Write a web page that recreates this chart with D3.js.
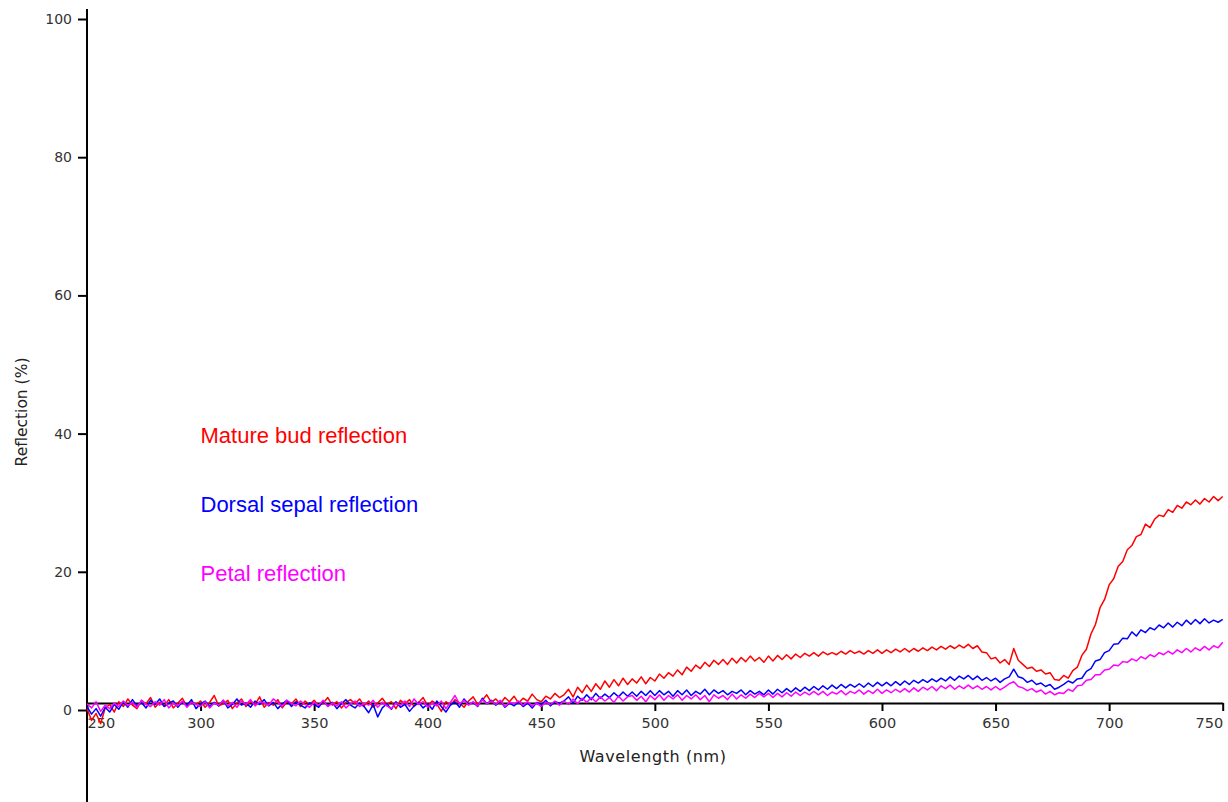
<!DOCTYPE html>
<html>
<head>
<meta charset="utf-8">
<script src="https://cdn.jsdelivr.net/npm/d3@7"></script>
<style>
  html, body { margin: 0; padding: 0; background: #fff; }
  svg { display: block; }
</style>
</head>
<body>
<svg id="chart" width="1228" height="802"></svg>
<script>
// ---- DATA ----
const wlStart = 250, wlStep = 2; // wavelengths 250..750 nm every 2 nm
const xTicks = [250, 300, 350, 400, 450, 500, 550, 600, 650, 700, 750];
const yTicks = [0, 20, 40, 60, 80, 100];
const seriesNames = ["Mature bud reflection", "Dorsal sepal reflection", "Petal reflection"];
const seriesColors = ["#ff0000", "#0000ff", "#ff00ff"];

const matureBud = [
  /*250*/ 0.2,-1.5,-0.5,-2.0,0.3, 0.8,-0.3,1.2,0.5,1.6, 0.7,0.2,1.4,0.9,1.8, 0.4,1.1,0.6,1.5,0.3,
  /*290*/ 1.0,1.7,0.5,1.2,0.8, 1.3,0.4,1.1,2.1,0.6, 0.9,1.4,0.2,1.0,1.6, 0.5,1.2,0.8,1.9,0.4,
  /*330*/ 1.1,0.7,1.5,0.3,1.2, 0.9,1.6,0.5,1.3,0.8, 1.4,0.6,1.0,1.8,0.7, 1.2,0.3,1.1,1.5,0.9,
  /*370*/ 1.6,0.6,1.3,0.4,1.0, 1.7,0.8,1.2,0.2,1.4, 0.9,1.5,0.5,1.1,1.8, 0.6,1.3,0.9,-0.2,1.2,
  /*410*/ 0.7,1.5,1.0,0.4,1.3, 1.9,0.8,1.4,2.2,1.1, 1.6,0.9,1.8,1.2,2.0, 1.0,1.7,1.3,2.3,1.5,
  /*450*/ 1.2,2.0,1.6,2.4,1.8, 2.2,3.0,1.9,3.3,2.5, 3.6,2.7,3.8,3.0,4.2, 3.3,4.4,3.5,4.6,3.7,
  /*490*/ 4.5,3.9,4.8,3.8,4.7, 4.2,5.2,4.6,5.4,4.9, 5.8,5.1,6.2,5.6,6.5, 6.0,6.9,6.3,7.2,6.6,
  /*530*/ 7.3,6.6,7.5,6.8,7.6, 7.0,7.8,7.1,7.6,6.9, 7.8,7.1,7.9,7.3,8.0, 7.4,8.1,7.6,8.2,7.8,
  /*570*/ 8.3,7.8,8.4,8.0,8.3, 8.0,8.5,8.1,8.6,8.2, 8.5,8.1,8.6,8.2,8.7, 8.2,8.7,8.3,8.8,8.4,
  /*610*/ 8.9,8.4,8.9,8.5,9.0, 8.6,9.1,8.7,9.2,8.8, 9.3,8.9,9.4,9.0,9.5, 8.9,9.3,8.4,8.3,7.4,
  /*650*/ 7.6,6.8,7.3,6.6,8.9, 7.2,6.6,6.0,6.2,5.6, 5.8,5.2,5.4,4.4,4.3, 5.0,4.6,5.7,6.2,7.9,
  /*690*/ 8.8,11.0,12.4,14.8,16.0, 18.1,19.0,20.8,21.5,23.2, 23.8,25.1,25.4,26.9,26.4, 27.6,28.2,28.0,29.0,28.6,
  /*730*/ 29.6,29.2,30.1,29.7,30.4, 29.8,30.6,30.1,30.9,30.3, 30.9
];

const dorsalSepal = [
  /*250*/ 0.5,-0.6,0.2,-0.9,0.4, -0.3,0.8,0.1,1.2,0.4, 1.5,0.6,1.1,0.3,1.4, 0.8,1.6,0.5,1.0,1.3,
  /*290*/ 0.4,1.2,0.7,1.5,0.2, 0.9,1.3,0.5,1.1,0.6, 1.4,0.3,0.8,1.6,0.7, 1.0,0.4,1.3,0.8,1.5,
  /*330*/ 0.6,1.1,0.2,0.9,1.4, 0.5,1.2,0.7,0.3,1.0, 0.8,0.4,1.3,0.6,1.1, 0.2,0.9,1.5,0.7,0.3,
  /*370*/ 1.0,0.5,-0.4,0.8,-1.0, 0.3,0.9,0.1,1.2,0.4, 0.8,-0.2,0.6,1.1,0.3, 0.9,0.1,1.3,0.5,-0.3,
  /*410*/ 0.7,1.2,0.4,1.6,0.8, 1.1,0.5,1.7,0.9,1.4, 0.7,1.3,0.4,1.0,0.6, 1.2,0.5,1.0,0.3,1.1,
  /*450*/ 0.8,1.4,0.6,1.2,1.0, 1.3,1.9,1.0,2.0,1.4, 2.2,1.5,2.4,1.7,2.3, 1.8,2.5,1.9,2.6,2.0,
  /*490*/ 2.6,2.0,2.7,2.1,2.8, 2.1,2.8,2.2,2.7,2.0, 2.8,2.2,2.9,2.1,2.7, 2.3,3.0,2.2,2.9,2.4,
  /*530*/ 2.8,2.2,2.7,2.4,2.9, 2.2,2.8,2.3,2.7,2.2, 2.9,2.3,3.0,2.5,3.1, 2.6,3.2,2.7,3.3,2.8,
  /*570*/ 3.4,2.9,3.5,3.0,3.6, 3.1,3.7,3.2,3.7,3.3, 3.8,3.3,3.9,3.4,4.0, 3.5,4.0,3.5,4.1,3.6,
  /*610*/ 4.2,3.7,4.3,3.9,4.4, 4.0,4.5,4.1,4.6,4.2, 4.8,4.3,4.9,4.5,5.0, 4.4,4.9,4.3,4.7,4.2,
  /*650*/ 4.6,4.0,4.5,4.8,5.9, 4.8,4.6,4.0,4.3,3.7, 3.9,3.4,3.7,3.0,3.3, 3.7,4.2,3.9,4.5,4.6,
  /*690*/ 5.6,6.0,7.1,7.3,8.3, 8.6,9.5,9.6,10.4,10.3, 11.3,10.7,11.6,11.2,11.9, 11.6,12.3,11.9,12.6,12.0,
  /*730*/ 12.7,12.2,13.0,12.4,13.1, 12.5,13.2,12.6,13.0,12.7, 13.1
];

const petal = [
  /*250*/ 0.9,0.3,1.2,-0.2,0.7, 0.2,1.0,0.5,1.3,0.6, 1.1,0.4,1.4,0.8,0.5, 1.2,0.7,1.5,0.3,1.0,
  /*290*/ 0.6,1.3,0.4,1.1,0.8, 0.5,1.2,0.3,1.0,0.7, 1.4,0.6,1.1,0.4,1.3, 0.8,1.5,0.6,1.2,1.0,
  /*330*/ 0.7,1.6,1.1,0.5,1.4, 1.0,0.6,1.3,0.8,0.4, 1.1,0.7,1.4,0.5,1.0, 0.6,1.2,0.3,0.9,1.3,
  /*370*/ 0.5,1.0,0.7,1.4,0.4, 1.1,0.6,0.2,1.0,0.7, 1.3,0.5,1.6,0.8,1.2, 0.4,1.0,0.6,1.3,0.2,
  /*410*/ 1.1,2.1,0.9,1.4,0.7, 1.2,0.6,1.5,0.9,1.3, 0.8,1.4,0.5,1.1,0.9, 1.3,0.7,1.2,0.6,1.0,
  /*450*/ 0.5,1.1,0.8,1.3,0.7, 1.3,0.8,1.6,0.9,1.7, 1.1,1.8,1.2,1.9,1.3, 1.8,1.1,2.0,1.3,1.9,
  /*490*/ 2.1,1.4,2.0,1.2,2.1, 1.5,2.2,1.4,2.1,1.6, 2.2,1.4,2.1,1.6,2.2, 1.5,2.1,1.2,2.2,1.7,
  /*530*/ 2.1,1.5,2.3,1.6,2.2, 1.7,2.3,1.8,2.4,1.9, 2.4,1.8,2.4,1.9,2.5, 2.0,2.6,2.1,2.6,2.2,
  /*570*/ 2.7,2.2,2.7,2.1,2.6, 2.3,2.8,2.2,2.7,2.4, 2.9,2.3,2.8,2.4,3.0, 2.4,2.9,2.5,3.0,2.6,
  /*610*/ 3.1,2.6,3.2,2.7,3.3, 2.9,3.4,2.8,3.5,3.1, 3.6,3.0,3.5,3.1,3.6, 3.1,3.5,3.0,3.4,2.9,
  /*650*/ 3.4,2.9,3.3,3.8,4.1, 3.4,3.2,2.8,3.1,2.6, 2.9,2.3,2.7,2.2,2.5, 2.4,3.0,2.7,3.5,3.6,
  /*690*/ 4.3,4.4,5.1,5.1,5.8, 5.9,6.5,6.4,7.0,6.9, 7.4,7.1,7.7,7.4,8.0, 7.7,8.3,8.0,8.5,8.1,
  /*730*/ 8.7,8.3,8.9,8.4,9.0, 8.6,9.2,8.7,9.3,9.0, 9.8
];

// ---- CHART ----
const svg = d3.select("#chart");
const x = d3.scaleLinear().domain([250, 750]).range([87, 1222.7]);
const y = d3.scaleLinear().domain([0, 100]).range([710, 19]);

// Y axis
const yAxis = svg.append("g").attr("transform", "translate(87,0)");
yAxis.call(d3.axisLeft(y).tickValues(yTicks).tickSize(9).tickPadding(6).tickSizeOuter(0));
yAxis.select(".domain").remove();
yAxis.append("line").attr("x1", 0).attr("x2", 0).attr("y1", 9).attr("y2", 802)
  .attr("stroke", "#000").attr("stroke-width", 2);
yAxis.selectAll(".tick line").attr("stroke", "#000").attr("stroke-width", 2);
yAxis.selectAll(".tick text").attr("font-family", "DejaVu Sans, sans-serif")
  .attr("font-size", 14).attr("fill", "#333");

// X axis (drawn at 703px)
const xAxisY = 703;
const xAxis = svg.append("g").attr("transform", `translate(0,${xAxisY})`);
xAxis.call(d3.axisBottom(x).tickValues(xTicks).tickSize(8).tickPadding(0).tickSizeOuter(0).tickFormat(d3.format("d")));
xAxis.select(".domain").attr("stroke", "#000").attr("stroke-width", 2);
xAxis.selectAll(".tick line").attr("stroke", "#000").attr("stroke-width", 2);
xAxis.selectAll(".tick text")
  .attr("font-family", "DejaVu Sans, sans-serif").attr("font-size", 14.5).attr("fill", "#333")
  .attr("dy", null).attr("y", 25)
  .attr("text-anchor", d => d === 250 ? "start" : (d === 750 ? "end" : "middle"));

// Axis titles
svg.append("text").attr("x", 653).attr("y", 762).attr("text-anchor", "middle")
  .attr("font-family", "DejaVu Sans, sans-serif").attr("font-size", 16)
  .attr("letter-spacing", 0.6).attr("fill", "#222").text("Wavelength (nm)");
svg.append("text").attr("transform", "translate(27,412) rotate(-90)").attr("text-anchor", "middle")
  .attr("font-family", "DejaVu Sans, sans-serif").attr("font-size", 15.5)
  .attr("fill", "#222").text("Reflection (%)");

// Lines
const seriesData = [matureBud, dorsalSepal, petal];
const line = d3.line().x((d, i) => x(wlStart + i * wlStep)).y(d => y(d));
seriesData.forEach((s, k) => {
  svg.append("path").datum(s).attr("d", line).attr("fill", "none")
    .attr("stroke", seriesColors[k]).attr("stroke-width", 1.5).attr("stroke-linejoin", "round");
});

// Labels
const labelY = [442.7, 511.7, 580.7];
seriesNames.forEach((n, k) => {
  svg.append("text").attr("x", 200.5).attr("y", labelY[k])
    .attr("font-family", "Liberation Sans, Arial, sans-serif").attr("font-size", 22)
    .attr("fill", seriesColors[k]).text(n);
});
</script>
</body>
</html>
